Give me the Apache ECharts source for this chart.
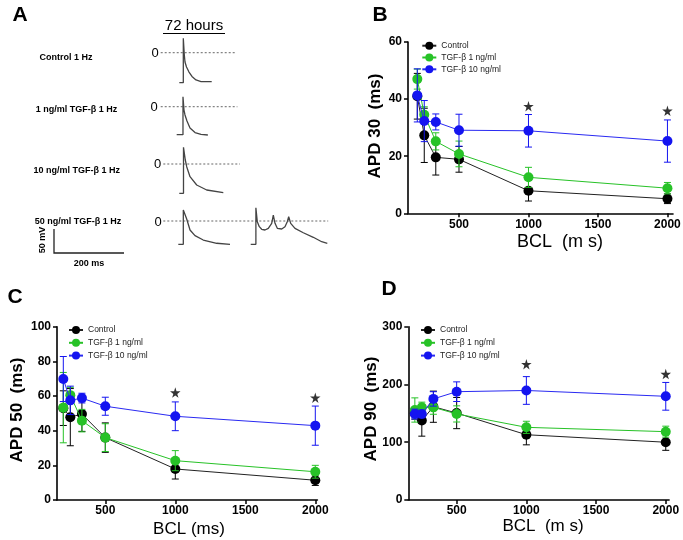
<!DOCTYPE html>
<html><head><meta charset="utf-8">
<script src="https://cdn.jsdelivr.net/npm/echarts@6/dist/echarts.min.js"></script>
<style>html,body{margin:0;padding:0;background:#fff}#c{width:683px;height:540px}</style>
</head><body><div id="c"></div>
<script>
// ---------- data ----------
const bcl = [200, 250, 333, 500, 1000, 2000];
const xTickValues = [500, 1000, 1500, 2000];
const groupNames = ['Control', 'TGF-β 1 ng/ml', 'TGF-β 10 ng/ml'];

// APD 30 (panel B)
const apd30Control = [41, 27.3, 19.6, 18.9, 7.9, 5.1];
const apd30ControlSem = [8, 9.5, 6.2, 4.5, 3.6, 1.7];
const apd30Tgf1 = [47, 34.5, 25.2, 20.8, 12.6, 8.8];
const apd30Tgf1Sem = [3.5, 2.8, 3, 4.5, 3.5, 2];
const apd30Tgf10 = [41.3, 32.3, 32, 29.1, 28.9, 25.3];
const apd30Tgf10Sem = [9.3, 7.2, 2.8, 5.6, 5.7, 7.4];
const apd30Stars = [[1000, 37.5], [2000, 35.9]];

// APD 50 (panel C)
const apd50Control = [53, 47.8, 49.6, 36, 17.9, 11.4];
const apd50ControlSem = [10, 16.5, 10, 8.5, 5.8, 3];
const apd50Tgf1 = [53.3, 60.5, 45.8, 36, 22.7, 16.3];
const apd50Tgf1Sem = [20.3, 4.5, 6.5, 8, 5.8, 3.7];
const apd50Tgf10 = [69.8, 57.5, 58.8, 54.1, 48.3, 42.9];
const apd50Tgf10Sem = [13, 8.2, 2.8, 5.2, 8.3, 11.3];
const apd50Stars = [[1000, 62], [2000, 59]];

// APD 90 (panel D)
const apd90Control = [150, 137.5, 161.5, 150.5, 113, 100];
const apd90ControlSem = [10, 27, 27, 27, 17.5, 14];
const apd90Tgf1 = [155.8, 160.4, 160.4, 149, 125.8, 118.3];
const apd90Tgf1Sem = [21, 9, 12, 14, 10.5, 9.5];
const apd90Tgf10 = [148.8, 148.8, 175, 187.5, 189.6, 179.5];
const apd90Tgf10Sem = [8.5, 6.5, 12.5, 17, 24, 24];
const apd90Stars = [[1000, 235], [2000, 218]];

// Panel A action potential traces: [time ms, voltage mV]
const traceControl = [[51.7,-51.7],[62.8,-51.7],[62.8,24.8],[65.6,-4],[67.5,-16],[71.7,-24.7],[78.6,-33.3],[86.9,-41],[98,-47],[112,-49.7],[141.7,-49.7]];
const traceTgf1 = [[44.4,-48.3],[61.9,-48.3],[61.9,17.2],[64.7,-5.7],[67.5,-14.3],[73,-24.7],[81.4,-36.7],[95.3,-44.5],[112,-47.6],[131,-48.8]];
const traceTgf10 = [[44.4,-50.5],[56.1,-50.5],[56.1,28.8],[61.1,6.9],[65,-4.7],[74.2,-21.9],[92.8,-36.2],[120.6,-44.8],[166.7,-49.5]];
const traceTgf50a = [[41.7,-40.2],[55.6,-40.2],[55.6,19],[60.3,16],[65,3.4],[74.2,-15.5],[88,-25.3],[111,-32.8],[148.3,-38.4],[185.3,-40.2]];
const traceTgf50b = [[242.8,-40.2],[257.2,-40.2],[257.2,22.9],[261.1,-1.2],[266.7,-9.8],[273.3,-14.3],[282.5,-15.5],[291.7,-12.6],[301.1,-4],[305.6,10.3],[310.3,-4],[316.7,-12.6],[328.9,-13.8],[338,-9.8],[344.4,-1.2],[348.3,7.4],[353.9,-4],[365.8,-12.6],[388.9,-20.2],[416.7,-28.1],[440,-35.7],[455.6,-38.4]];
const zeroLineLengths = [211, 213, 213, 458];
const rowLabels = ['Control 1 Hz', '1 ng/ml TGF-β 1 Hz', '10 ng/ml TGF-β 1 Hz', '50 ng/ml TGF-β 1 Hz'];

// ---------- styling ----------
const FONT = '"Liberation Sans", Arial, sans-serif';
const markerColors = ['#000000', '#27c227', '#1414f0'];
const lineColors = ['#222222', '#27c227', '#2a2af2'];

const chart = echarts.init(document.getElementById('c'), null, {renderer: 'canvas'});

function errRender(params, api) {
  const x = api.value(0), m = api.value(1), s = api.value(2);
  const top = api.coord([x, m + s]);
  const bot = api.coord([x, m - s]);
  const w = 3.5;
  const st = {stroke: api.visual('color'), lineWidth: 1};
  return {type: 'group', children: [
    {type: 'line', shape: {x1: top[0], y1: top[1], x2: bot[0], y2: bot[1]}, style: st},
    {type: 'line', shape: {x1: top[0] - w, y1: top[1], x2: top[0] + w, y2: top[1]}, style: st},
    {type: 'line', shape: {x1: bot[0] - w, y1: bot[1], x2: bot[0] + w, y2: bot[1]}, style: st}
  ]};
}

const starPath = 'path://M50,0 L61,35 L98,35 L68,57 L79,91 L50,70 L21,91 L32,57 L2,35 L39,35 Z';

const series = [];
function addPanel(axisIdx, means, sems, stars, tag) {
  means.forEach((vals, g) => {
    series.push({
      type: 'custom', name: 'err-' + tag + g, xAxisIndex: axisIdx, yAxisIndex: axisIdx,
      z: 2 + g * 2, itemStyle: {color: markerColors[g]},
      encode: {x: 0, y: 1},
      data: bcl.map((x, i) => [x, vals[i], sems[g][i]]),
      renderItem: errRender, silent: true
    });
    series.push({
      type: 'line', name: groupNames[g], xAxisIndex: axisIdx, yAxisIndex: axisIdx,
      z: 3 + g * 2, symbol: 'circle', symbolSize: 10, showSymbol: true,
      itemStyle: {color: markerColors[g]},
      lineStyle: {color: lineColors[g], width: 1},
      data: bcl.map((x, i) => [x, vals[i]]), silent: true
    });
  });
  series.push({
    type: 'scatter', name: 'stars-' + tag, xAxisIndex: axisIdx, yAxisIndex: axisIdx,
    symbol: starPath, symbolSize: 10.5, itemStyle: {color: '#000'}, z: 10,
    data: stars, silent: true
  });
}
addPanel(0, [apd30Control, apd30Tgf1, apd30Tgf10], [apd30ControlSem, apd30Tgf1Sem, apd30Tgf10Sem], apd30Stars, 'B');
addPanel(1, [apd50Control, apd50Tgf1, apd50Tgf10], [apd50ControlSem, apd50Tgf1Sem, apd50Tgf10Sem], apd50Stars, 'C');
addPanel(2, [apd90Control, apd90Tgf1, apd90Tgf10], [apd90ControlSem, apd90Tgf1Sem, apd90Tgf10Sem], apd90Stars, 'D');

// Panel A traces
const traceRows = [[traceControl], [traceTgf1], [traceTgf10], [traceTgf50a, traceTgf50b]];
traceRows.forEach((row, r) => {
  series.push({
    type: 'line', name: 'zero-' + r, xAxisIndex: 3 + r, yAxisIndex: 3 + r,
    showSymbol: false, symbol: 'none', silent: true,
    lineStyle: {color: '#666', width: 1, type: [2, 2]},
    data: [[0, 0], [zeroLineLengths[r], 0]]
  });
  row.forEach((tr, k) => {
    series.push({
      type: 'line', name: 'trace-' + r + '-' + k, xAxisIndex: 3 + r, yAxisIndex: 3 + r,
      showSymbol: false, symbol: 'none', silent: true, z: 5,
      lineStyle: {color: '#444', width: 1.3},
      data: tr
    });
  });
});

// ---------- axes ----------
const gridsPx = [
  {left: 408, top: 42, width: 265, height: 171.3},     // B
  {left: 57, top: 326.7, width: 260.4, height: 173.3}, // C
  {left: 408.3, top: 326.7, width: 260.8, height: 173.3} // D
];
const xRanges = [[133, 2040], [155, 2015], [153, 2024]];
const yRanges = [[0, 60, 20], [0, 100, 20], [0, 300, 100]];
const traceGrids = [
  {left: 160.7, top: 29.5}, {left: 160.7, top: 83.5}, {left: 163.3, top: 140.8}, {left: 163.3, top: 197.8}
];

const grid = gridsPx.map(g => Object.assign({containLabel: false, outerBoundsMode: 'none'}, g))
  .concat(traceGrids.map(g => ({left: g.left, top: g.top, width: 180, height: 58, containLabel: false, outerBoundsMode: 'none'})));

const axisLineStyle = {color: '#000', width: 1.6};
const tickLabel = {color: '#000', fontWeight: 'bold', fontSize: 12, fontFamily: FONT, formatter: v => String(v)};

const xAxis = xRanges.map((r, i) => ({
  type: 'value', gridIndex: i, min: r[0], max: r[1],
  axisLine: {show: true, onZero: false, lineStyle: axisLineStyle},
  axisTick: {show: true, length: 4, lineStyle: {color: '#000', width: 1.5}, customValues: xTickValues},
  axisLabel: Object.assign({margin: 5, customValues: xTickValues}, tickLabel),
  splitLine: {show: false}
})).concat(traceGrids.map((g, i) => ({
  type: 'value', gridIndex: 3 + i, min: 0, max: 500, show: false
})));

const yAxis = yRanges.map((r, i) => ({
  type: 'value', gridIndex: i, min: r[0], max: r[1], interval: r[2],
  axisLine: {show: true, lineStyle: axisLineStyle},
  axisTick: {show: true, length: 4, lineStyle: {color: '#000', width: 1.5}},
  axisLabel: Object.assign({margin: 6}, tickLabel),
  splitLine: {show: false}
})).concat(traceGrids.map((g, i) => ({
  type: 'value', gridIndex: 3 + i, min: -60, max: 40, show: false
})));

const legendBase = {
  data: groupNames, orient: 'vertical', selectedMode: false,
  itemWidth: 14, itemHeight: 10,
  textStyle: {fontSize: 8.5, color: '#222', fontFamily: FONT, lineHeight: 10}
};
const legend = [
  Object.assign({left: 416.3, top: 35.7, itemGap: 1.8}, legendBase),
  Object.assign({left: 63, top: 320, itemGap: 2.8}, legendBase),
  Object.assign({left: 415, top: 320, itemGap: 2.8}, legendBase)
];

// ---------- text / annotations ----------
function txt(text, x, y, size, weight, extra) {
  return Object.assign({
    type: 'text', x: x, y: y, silent: true,
    style: {text: text, fontSize: size, fontWeight: weight || 'normal', fontFamily: FONT, fill: '#000', align: 'center', verticalAlign: 'middle'}
  }, extra || {});
}
const graphic = [
  txt('A', 20, 15, 21, 'bold'),
  txt('B', 380, 15, 21, 'bold'),
  txt('C', 15, 297, 21, 'bold'),
  txt('D', 389, 289, 21, 'bold'),
  txt('72 hours', 194, 26, 15, 'normal'),
  {type: 'line', silent: true, shape: {x1: 163, y1: 33.5, x2: 225, y2: 33.5}, style: {stroke: '#000', lineWidth: 1}},
  txt(rowLabels[0], 66, 58, 9, 'bold'),
  txt(rowLabels[1], 76.5, 110, 9, 'bold'),
  txt(rowLabels[2], 76.7, 171, 9, 'bold'),
  txt(rowLabels[3], 78, 222, 9, 'bold'),
  txt('0', 155, 53.5, 13, 'normal'),
  txt('0', 154, 107.5, 13, 'normal'),
  txt('0', 157.5, 164.5, 13, 'normal'),
  txt('0', 158, 222, 13, 'normal'),
  {type: 'polyline', silent: true, shape: {points: [[54, 229], [54, 253], [124, 253]]}, style: {stroke: '#222', lineWidth: 1.3, fill: null}},
  txt('50 mV', 43, 240, 9, 'bold', {rotation: Math.PI / 2}),
  txt('200 ms', 89, 264, 9, 'bold'),
  // axis titles
  txt('APD 30  (ms)', 375, 126, 17, 'bold', {rotation: Math.PI / 2}),
  txt('APD 50  (ms)', 17, 410, 17, 'bold', {rotation: Math.PI / 2}),
  txt('APD 90  (ms)', 371, 409, 17, 'bold', {rotation: Math.PI / 2}),
  txt('BCL  (m s)', 560, 242, 18, 'normal'),
  txt('BCL (ms)', 189, 529, 17, 'normal'),
  txt('BCL  (m s)', 543, 526, 17, 'normal')
];

chart.setOption({
  animation: false,
  backgroundColor: '#fff',
  grid: grid, xAxis: xAxis, yAxis: yAxis, legend: legend,
  series: series, graphic: graphic
});
</script></body></html>
